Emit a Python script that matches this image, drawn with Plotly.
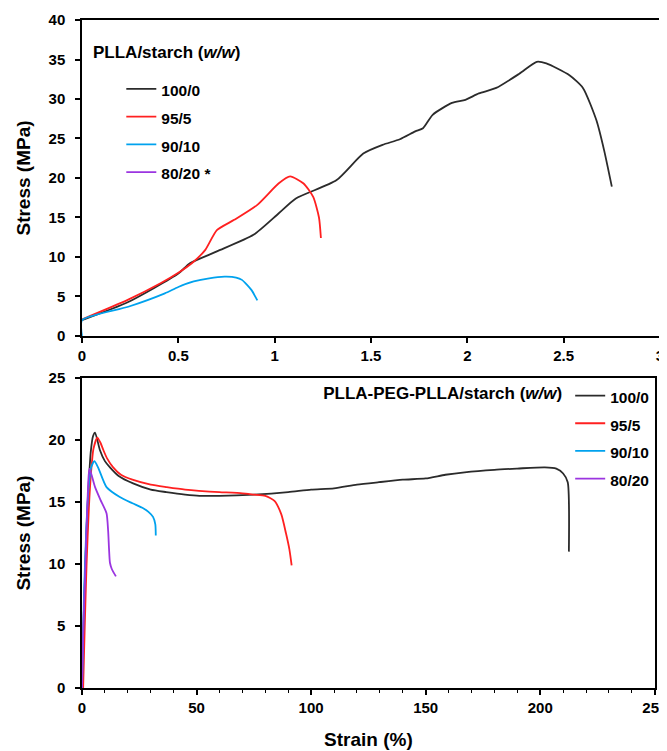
import plotly.graph_objects as go

# ---------------- Data ----------------
# Top panel: PLLA/starch (w/w), strain in %
top_100_0_x = [0, 0.24, 0.50, 0.56, 0.70, 0.89, 1.02, 1.11, 1.32, 1.46, 1.56, 1.65, 1.73, 1.77,
               1.82, 1.92, 1.99, 2.06, 2.15, 2.27, 2.36, 2.41, 2.53, 2.60, 2.67, 2.71, 2.75]
top_100_0_y = [2.0, 4.3, 7.9, 9.2, 10.7, 12.8, 15.5, 17.4, 19.7, 23.1, 24.2, 24.9, 25.9, 26.3,
               28.0, 29.5, 29.9, 30.7, 31.4, 33.2, 34.7, 34.5, 33.0, 31.4, 27.3, 23.5, 18.9]

top_95_5_x = [0, 0.24, 0.41, 0.50, 0.57, 0.64, 0.70, 0.79, 0.91, 1.02, 1.08, 1.15, 1.20, 1.23, 1.24]
top_95_5_y = [2.1, 4.6, 6.7, 8.0, 9.2, 10.9, 13.4, 14.7, 16.6, 19.3, 20.2, 19.3, 17.6, 15.0, 12.4]

top_90_10_x = [0, 0, 0.24, 0.43, 0.50, 0.58, 0.66, 0.74, 0.80, 0.83, 0.88, 0.91]
top_90_10_y = [0, 2.0, 3.7, 5.4, 6.2, 6.9, 7.3, 7.5, 7.4, 7.1, 5.8, 4.5]

top_80_20_x = [None]   # not measurable (*)
top_80_20_y = [None]

# Bottom panel: PLLA-PEG-PLLA/starch (w/w)
bot_100_0_x = [0, 0.8, 1.8, 2.8, 3.8, 4.8, 5.7, 7.8, 10, 12.2, 16, 22.3, 30, 36.8, 45, 51.3, 60,
               75, 90, 100, 110, 120, 129.6, 140, 150, 158.6, 167, 180, 190, 202, 207, 210, 212, 212.5]
bot_100_0_y = [0, 6, 12, 16, 19, 20.3, 20.6, 19.2, 18.3, 17.8, 17.1, 16.5, 16.0, 15.8, 15.6, 15.5, 15.5,
               15.6, 15.8, 16.0, 16.1, 16.4, 16.6, 16.8, 16.9, 17.2, 17.4, 17.6, 17.7, 17.8, 17.7, 17.3, 16.6, 11.0]

bot_95_5_x = [0.5, 1.2, 2, 3, 4, 5, 6.7, 8, 9.3, 11, 13.6, 17, 22, 30, 37, 45, 51, 60, 70, 75,
              80, 84, 87, 89, 90.5, 91.5]
bot_95_5_y = [0, 5, 10, 14.5, 17.5, 19.3, 20.2, 19.8, 19.2, 18.5, 17.8, 17.2, 16.8, 16.4, 16.2, 16.0,
              15.9, 15.8, 15.7, 15.6, 15.5, 15.1, 14.0, 12.5, 11.2, 9.9]

bot_90_10_x = [0, 0.8, 1.8, 2.8, 4, 5.4, 7, 10.7, 16.5, 22, 26.7, 29, 31, 32, 32.2]
bot_90_10_y = [0, 7, 12.5, 16, 17.8, 18.3, 17.8, 16.2, 15.4, 14.9, 14.5, 14.2, 13.8, 13.2, 12.3]

bot_80_20_x = [0, 0.6, 1.3, 2, 2.7, 3.2, 4, 5.7, 8, 10.7, 11.4, 11.8, 12.2, 13, 14.8]
bot_80_20_y = [0, 5, 8.7, 13, 16.5, 17.7, 17.3, 16.2, 15.2, 14.1, 12.7, 11.2, 10.1, 9.6, 9.0]

labels_top = ["100/0", "95/5", "90/10", "80/20 *"]
labels_bot = ["100/0", "95/5", "90/10", "80/20"]
colors = ["#2b2b2b", "#ff2020", "#00a2ee", "#9b35e0"]
title_top = "PLLA/starch (<i>w/w</i>)"
title_bot = "PLLA-PEG-PLLA/starch (<i>w/w</i>)"

FONT = "Liberation Sans, Arial, sans-serif"


def lab(t):
    return "<span style='font-size:15.5px'>%s</span>" % t


fig = go.Figure()

top_series = [(top_100_0_x, top_100_0_y), (top_95_5_x, top_95_5_y),
              (top_90_10_x, top_90_10_y), (top_80_20_x, top_80_20_y)]
bot_series = [(bot_100_0_x, bot_100_0_y), (bot_95_5_x, bot_95_5_y),
              (bot_90_10_x, bot_90_10_y), (bot_80_20_x, bot_80_20_y)]

for (x, y), name, c in zip(top_series, labels_top, colors):
    fig.add_trace(go.Scatter(x=x, y=y, mode="lines", name=lab(name),
                             line=dict(color=c, width=1.8, shape="spline", smoothing=0.6),
                             xaxis="x", yaxis="y", legend="legend"))

for (x, y), name, c in zip(bot_series, labels_bot, colors):
    fig.add_trace(go.Scatter(x=x, y=y, mode="lines", name=lab(name),
                             line=dict(color=c, width=1.8, shape="spline", smoothing=0.6),
                             xaxis="x2", yaxis="y2", legend="legend2"))

axis_common = dict(showline=True, linecolor="black", linewidth=1.5, mirror=True,
                   ticks="outside", ticklen=5, tickwidth=1.5, tickcolor="black",
                   showgrid=False, zeroline=False, automargin=False,
                   ticklabeloverflow="allow",
                   tickfont=dict(family=FONT, size=15, color="black", weight="bold"))
title_font = dict(family=FONT, size=19, color="black", weight="bold")

# The page body adds an 8px margin, so the figure is sized/margined to compensate.
fig.update_layout(
    template="none",
    width=659, height=743,
    margin=dict(l=74, r=7, t=12, b=63, pad=0),
    paper_bgcolor="white", plot_bgcolor="white",
    font=dict(family=FONT, color="black"),
    xaxis=dict(domain=[0, 1], range=[0, 3], dtick=0.5, anchor="y", **axis_common),
    yaxis=dict(domain=[0.527, 1], range=[0, 40], dtick=5, anchor="x", ticklabelstandoff=7,
               title=dict(text="Stress (MPa)", standoff=13, font=title_font),
               **axis_common),
    xaxis2=dict(domain=[0, 0.991], range=[0, 250], dtick=50, anchor="y2",
                minor=dict(dtick=10, ticks="outside", ticklen=3, tickwidth=1.2, tickcolor="black"),
                title=dict(text="Strain (%)", standoff=18, font=title_font),
                **axis_common),
    yaxis2=dict(domain=[0, 0.464], range=[0, 25], dtick=5, anchor="x2", ticklabelstandoff=7,
                title=dict(text="Stress (MPa)", standoff=13, font=title_font),
                **axis_common),
    legend=dict(x=0.068, y=0.925, xanchor="left", yanchor="top",
                bgcolor="rgba(0,0,0,0)", borderwidth=0,
                font=dict(family=FONT, size=19, color="black", weight="bold"),
                tracegroupgap=0),
    legend2=dict(x=0.99, y=0.466, xanchor="right", yanchor="top",
                 bgcolor="rgba(0,0,0,0)", borderwidth=0,
                 font=dict(family=FONT, size=19, color="black", weight="bold"),
                 title=dict(text=title_bot, side="left",
                            font=dict(family=FONT, size=17, color="black", weight="bold")),
                 tracegroupgap=0),
    annotations=[dict(text=title_top, xref="paper", yref="paper", x=0.0155, y=0.952,
                      xanchor="left", yanchor="middle", showarrow=False,
                      font=dict(family=FONT, size=17, color="black", weight="bold"))],
    showlegend=True,
)

fig.write_html("out.html")
